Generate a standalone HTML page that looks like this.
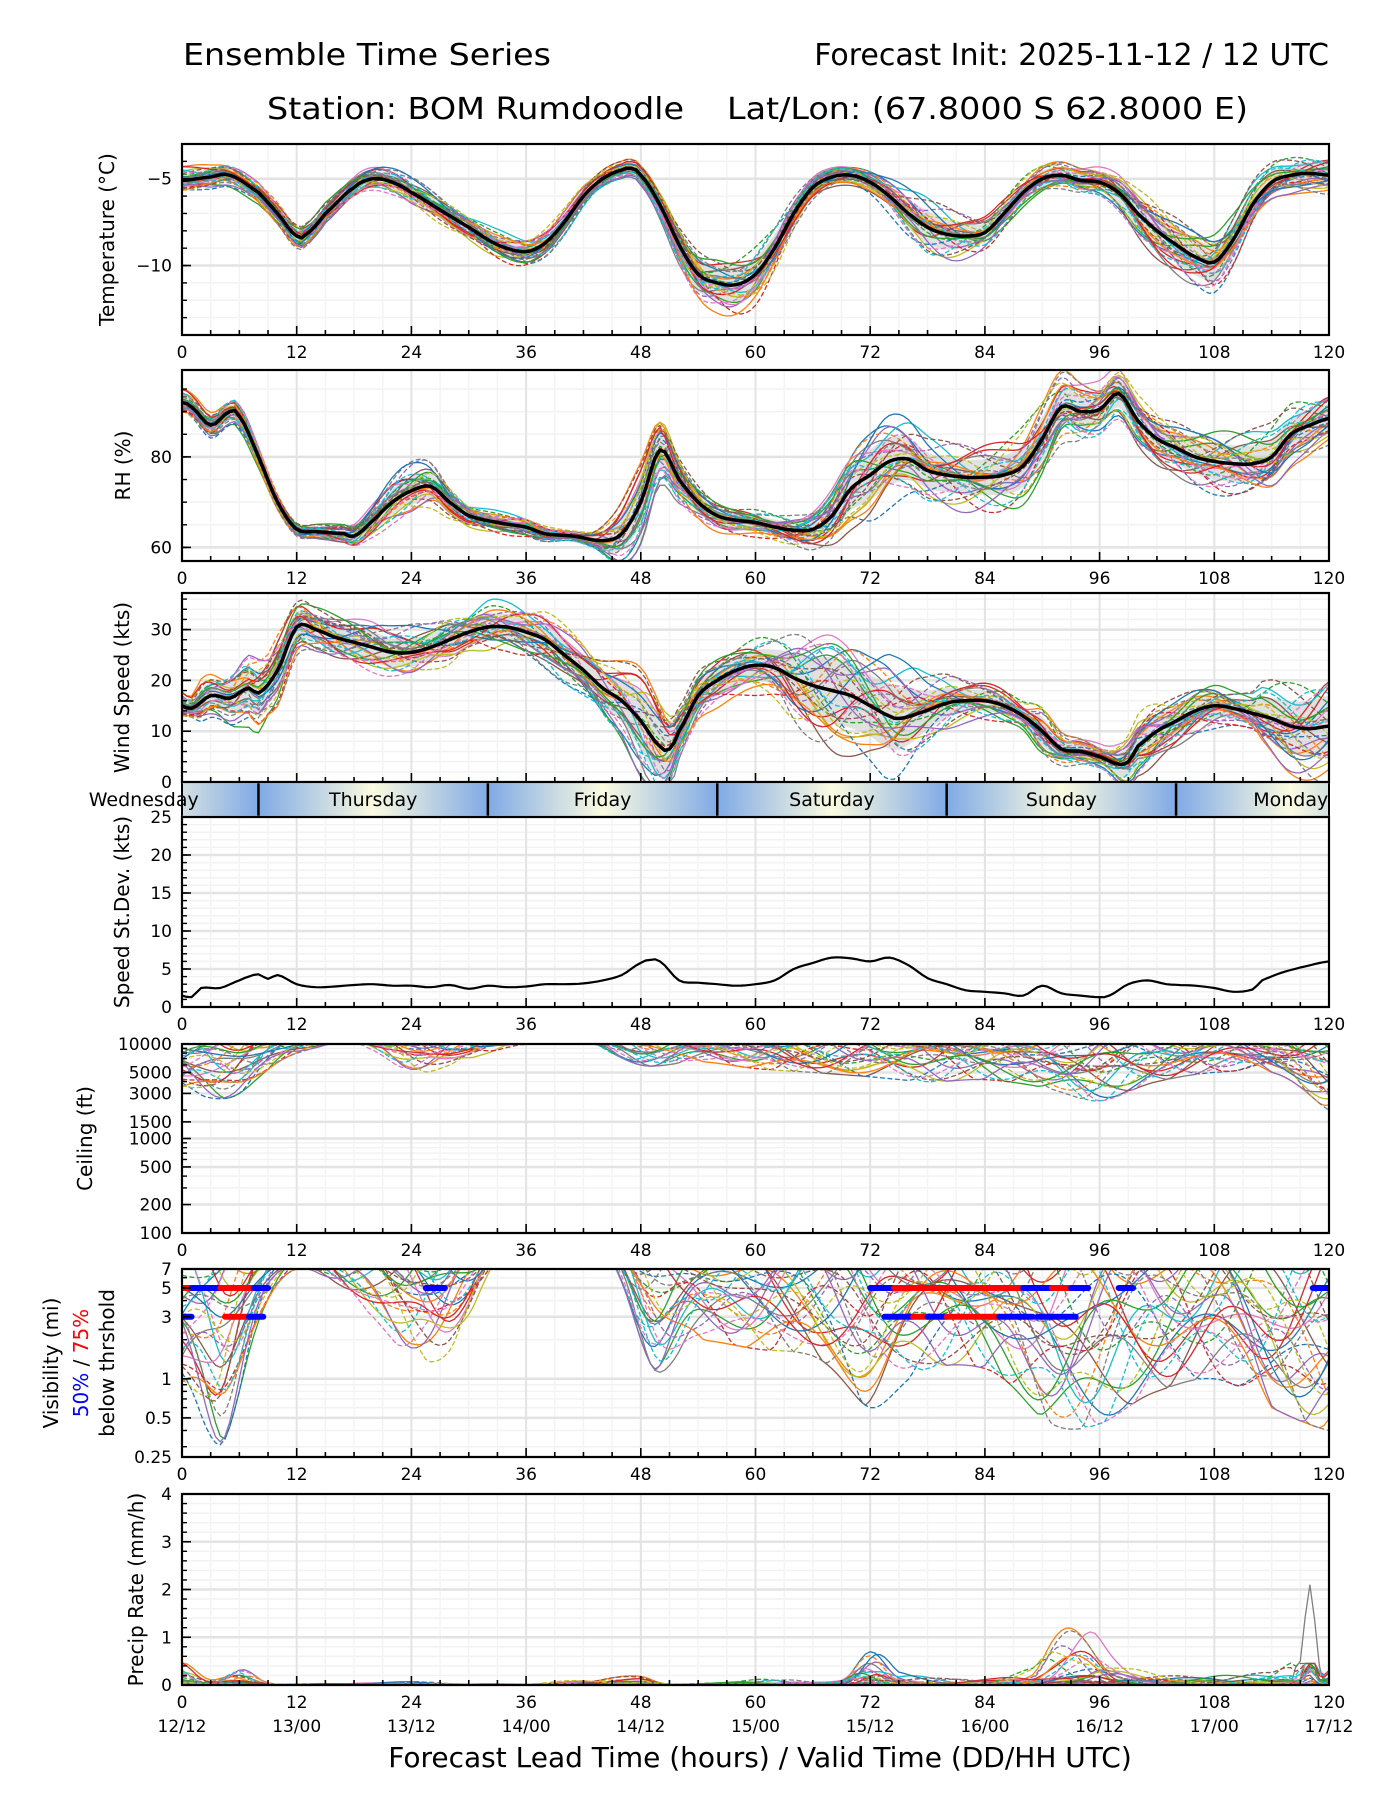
<!DOCTYPE html>
<html><head><meta charset="utf-8"><style>
html,body{margin:0;padding:0;background:#fff}
svg{display:block;font-family:"DejaVu Sans","Liberation Sans",sans-serif}
</style></head><body>
<svg id="chart" xmlns="http://www.w3.org/2000/svg" width="1400" height="1800" viewBox="0 0 1400 1800">
<text x="183" y="65" font-size="30" textLength="368" lengthAdjust="spacingAndGlyphs">Ensemble Time Series</text>
<text x="1329" y="65" font-size="30" text-anchor="end">Forecast Init: 2025-11-12 / 12 UTC</text>
<text x="267" y="119" font-size="30" textLength="417" lengthAdjust="spacingAndGlyphs">Station: BOM Rumdoodle</text>
<text x="727" y="119" font-size="30" textLength="521" lengthAdjust="spacingAndGlyphs">Lat/Lon: (67.8000 S 62.8000 E)</text>
<text x="760" y="1767" font-size="28" text-anchor="middle">Forecast Lead Time (hours) / Valid Time (DD/HH UTC)</text>
</svg>
<script>
// ---------- DATA ----------
const tempHours=[0,3,5,8,10,12,13,15,18,20,22,24,27,30,33,36,38,40,42,44,46,47,48,50,52,54,56,58,60,62,64,66,68,70,72,74,76,78,80,82,84,86,88,90,92,94,96,98,100,102,104,106,108,110,112,114,116,118,120];
const tempMean=[-5.1,-4.9,-4.8,-5.8,-7,-8.3,-8.2,-7,-5.5,-5.0,-5.2,-5.8,-6.8,-7.8,-8.8,-9.2,-8.7,-7.5,-6,-5,-4.5,-4.4,-4.8,-6.5,-8.8,-10.5,-11,-11.1,-10.5,-9,-7,-5.5,-4.9,-4.8,-5.2,-6,-7,-7.8,-8.2,-8.3,-8.1,-7,-5.8,-5,-4.8,-5.1,-5.2,-5.8,-7,-8,-8.8,-9.5,-9.8,-8.5,-6.5,-5.2,-4.8,-4.7,-4.8];
const spreadHours=[0,6,12,18,24,30,36,42,48,54,60,66,72,78,84,90,96,102,108,114,120];
const tempSpread=[0.6,0.5,0.5,0.5,0.6,0.6,0.6,0.5,0.4,1.2,1.2,0.5,0.5,1.2,0.7,0.6,0.6,1.2,1.3,0.8,0.8];
const rhHours=[0,1,3,5,6,8,10,12,14,17,18,20,22,24,26,28,30,33,36,38,41,44,46,48,50,52,54,56,58,60,62,64,66,68,70,72,74,76,78,80,82,84,86,88,90,92,94,96,98,100,102,104,106,108,110,112,114,116,118,120];
const rhMean=[92,91,87,90,89,80,70,64,63.5,63,62.5,66,70,72.5,73.5,70,67,65.5,64.5,63,62.5,61.5,63,70,81.5,75,70,67,66,65.5,64.5,63.8,64,67,73,76,79,79.5,77,76,75.5,75.5,76,78,84,91,90,90.5,94,88,84,82,80,79,78.5,78.5,80,85,87,88.5];
const rhSpread=[2,2,1,2,4,2,1.5,1,6,3,2,3,7,5,5,6,4,4,5,5,4];
const windHours=[0,1,3,5,7,8,10,12,14,16,18,20,22,24,26,28,30,32,34,36,38,40,42,44,46,48,50,51,52,54,56,58,60,62,64,66,68,70,72,74,75,77,80,82,84,86,88,90,92,94,96,98,99,100,102,104,106,108,110,112,114,116,118,120];
const windMean=[15,14.5,17,16.5,18.5,17.5,22,30.5,30,28.5,27.5,26.5,25.5,25.5,26.5,28,29.5,30.5,30.5,29.5,28,25,22,18.5,16,12,7,6.5,10,17,20,22,23,22.5,20.5,19,18,17,15,13,12.5,13.5,15.5,16,16,15,13,10,6.5,6,5,3.5,4,7,10,12,14,15,14.5,13.5,12.5,11,10.5,11];
const stdHours=[0,1,2,4,6,7,8,9,10,12,14,16,18,20,22,24,26,28,30,32,34,36,38,40,42,44,46,48,49,50,52,54,56,58,60,62,64,66,68,70,72,74,76,78,80,82,84,86,88,90,92,94,96,97,99,101,103,106,108,110,112,113,115,117,120];
const stdVals=[1.5,1.3,2.5,2.5,3.5,4,4.3,3.7,4.2,3.0,2.6,2.7,2.9,3.0,2.8,2.8,2.6,2.9,2.4,2.8,2.6,2.7,3.0,3.0,3.1,3.5,4.2,5.8,6.2,6.0,3.5,3.2,3.0,2.8,3.0,3.5,5,5.8,6.5,6.4,6.0,6.5,5.5,3.8,3.0,2.2,2.0,1.8,1.5,2.8,1.8,1.5,1.3,1.5,3,3.5,3.0,2.8,2.5,2.0,2.3,3.5,4.5,5.2,6.0];
const ceilLow=[3000,3000,8000,10000,5000,7000,10000,10000,6000,6500,5500,5000,4500,4000,4200,3500,2500,4000,5000,5000,2000];
const visLow=[0.7,0.8,7,4,1.5,3,14,14,2,2,1.7,1.5,0.6,1.2,1.2,0.5,0.45,0.8,1,0.6,0.4];
const precipHours=[0,3,6,9,12,24,36,48,51,60,63,69,72,75,84,89,91,93,95,97,99,102,114,116,117,118,119,120];
const precipPeak=[0.4,0.1,0.35,0.05,0.02,0.05,0.02,0.15,0.02,0.1,0.1,0.1,0.7,0.2,0.1,0.3,0.8,1.0,0.9,0.5,0.3,0.2,0.2,0.4,0.5,2.1,0.4,0.35];
const visBars=[[5,0,1,'red'],[5,1,4,'blue'],[5,4,7.5,'red'],[5,7.5,9,'blue'],[3,0,1,'blue'],[3,4.5,7,'red'],[3,7,8.5,'blue'],[5,25.5,27.5,'blue'],[5,72,74.5,'blue'],[5,74.5,88,'red'],[5,88,91,'blue'],[5,91,93,'red'],[5,93,94.8,'blue'],[5,98,99.5,'blue'],[5,118.3,120,'blue'],[3,73.5,76.5,'blue'],[3,76.5,78,'red'],[3,78,80,'blue'],[3,80,85.5,'red'],[3,85.5,89,'blue'],[3,89.5,93.5,'blue']];
const dayNames=['Wednesday','Thursday','Friday','Saturday','Sunday','Monday'];
const hourTicks=[0,12,24,36,48,60,72,84,96,108,120];
const validLabels=['12/12','13/00','13/12','14/00','14/12','15/00','15/12','16/00','16/12','17/00','17/12'];
const colors=['#1f77b4','#ff7f0e','#2ca02c','#d62728','#9467bd','#8c564b','#e377c2','#7f7f7f','#bcbd22','#17becf'];
const NM=30;
// ---------- HELPERS ----------
const NS='http://www.w3.org/2000/svg';
const svg=document.getElementById('chart');
const X0=182,X1=1329;
function sx(h){return X0+h*(X1-X0)/120;}
function mk(tag,attrs,parent){const e=document.createElementNS(NS,tag);for(const k in attrs)e.setAttribute(k,attrs[k]);(parent||svg).appendChild(e);return e;}
function interp(hs,vs,t){
  if(t<=hs[0])return vs[0]; if(t>=hs[hs.length-1])return vs[vs.length-1];
  let i=0;while(hs[i+1]<t)i++;
  const p0=vs[Math.max(0,i-1)],p1=vs[i],p2=vs[i+1],p3=vs[Math.min(vs.length-1,i+2)];
  const u=(t-hs[i])/(hs[i+1]-hs[i]);
  return 0.5*((2*p1)+(-p0+p2)*u+(2*p0-5*p1+4*p2-p3)*u*u+(-p0+3*p1-3*p2+p3)*u*u*u);
}
function off(m,t){return 0.65*Math.sin(t*0.11*(1+(m%7)*0.19)+m*1.7)+0.35*Math.sin(t*0.37*(1+(m%5)*0.13)+m*0.9)+0.25*Math.sin(m*2.3);}
const T=[];for(let t=0;t<=120.001;t+=0.5)T.push(t);
const panels={
 temp:{top:144,bot:335,min:-14,max:-3},
 rh:{top:370,bot:561,min:57,max:99.2},
 wind:{top:593,bot:782,min:0,max:37.2},
 std:{top:817,bot:1007,min:0,max:25},
 ceil:{top:1044,bot:1233,min:100,max:10000,log:true},
 vis:{top:1269,bot:1457,min:0.25,max:7,log:true},
 precip:{top:1494,bot:1685,min:0,max:4}
};
function sy(p,v){
  if(p.log)return p.top+(Math.log(p.max)-Math.log(v))/(Math.log(p.max)-Math.log(p.min))*(p.bot-p.top);
  return p.top+(p.max-v)/(p.max-p.min)*(p.bot-p.top);
}
function pathOf(p,vals){return vals.map((v,i)=>(i?'L':'M')+sx(T[i]).toFixed(1)+','+sy(p,v).toFixed(1)).join('');}
function frame(name,p,yMajor,yMinor,yLabels,showX){
  const g=mk('g',{});
  
  
  const cp=mk('clipPath',{id:'clip-'+name},g);
  mk('rect',{x:X0,y:p.top,width:X1-X0,height:p.bot-p.top},cp);
  for(const v of yMinor){const y=sy(p,v);const l=mk('line',{x1:X0,x2:X1,y1:y,y2:y,stroke:'#f2f2f2','stroke-width':1.5},g);
    
    }
  for(let h=3;h<120;h+=3){if(h%12==0)continue;const l=mk('line',{x1:sx(h),x2:sx(h),y1:p.top,y2:p.bot,stroke:'#f4f4f4','stroke-width':1.5},g);
    
    }
  for(const v of yMajor){const y=sy(p,v);const l=mk('line',{x1:X0,x2:X1,y1:y,y2:y,stroke:'#e3e3e3','stroke-width':2.5},g);
    
    }
  for(const h of hourTicks){const l=mk('line',{x1:sx(h),x2:sx(h),y1:p.top,y2:p.bot,stroke:'#e3e3e3','stroke-width':2},g);
    
    }
  const data=mk('g',{'clip-path':'url(#clip-'+name+')'},g);
  
  
  const axes=mk('g',{},g);
  
  
  setTimeout(()=>{svg.appendChild(g);g.appendChild(axes);},0);
  for(let h=0;h<=120;h+=3){const L=h%12==0?9:5;const l=mk('line',{x1:sx(h),x2:sx(h),y1:p.bot,y2:p.bot-L,stroke:'#000','stroke-width':1.6},axes);
    
    }
  for(const v of yMinor){const y=sy(p,v);const l=mk('line',{x1:X0,x2:X0+5,y1:y,y2:y,stroke:'#000','stroke-width':1.4},axes);
    
    }
  yMajor.forEach((v,i)=>{const y=sy(p,v);const l=mk('line',{x1:X0,x2:X0+9,y1:y,y2:y,stroke:'#000','stroke-width':1.6},axes);
    
    
    const t=mk('text',{x:172,y:y+6,'font-size':17,'text-anchor':'end'},axes);t.textContent=yLabels[i];
    
    });
  const r=mk('rect',{x:X0,y:p.top,width:X1-X0,height:p.bot-p.top,fill:'none',stroke:'#000','stroke-width':2.2},axes);
  
  
  if(showX){hourTicks.forEach(h=>{const t=mk('text',{x:sx(h),y:p.bot+23,'font-size':17,'text-anchor':'middle'},axes);t.textContent=String(h);
    
    });}
  return {g:data,axes:axes};
}
function ylabel(text,x,p,parent){const cy=(p.top+p.bot)/2;const t=mk('text',{x:x,y:cy,'font-size':20,'text-anchor':'middle','dominant-baseline':'central',transform:`rotate(-90 ${x} ${cy})`},parent);t.textContent=text;
  
  return t;}
function members(p,g,fn){
  for(let m=0;m<NM;m++){const vals=T.map(t=>fn(m,t));
    const l=mk('path',{d:pathOf(p,vals),fill:'none',stroke:colors[m%10],'stroke-width':1.3,'stroke-dasharray':m>=10&&m<20||m>=25?'5,2.5':'none'},g);
    
    }
}
function band(p,g,mean,spread,k){
  const up=T.map(t=>mean(t)+k*spread(t)),lo=T.map(t=>mean(t)-k*spread(t));
  const d=pathOf(p,up)+lo.map((v,i)=>'L'+sx(T[lo.length-1-i]).toFixed(1)+','+sy(p,lo[lo.length-1-i]).toFixed(1)).join('')+'Z';
  const b=mk('path',{d:d,fill:'#c8c8c8','fill-opacity':0.55,stroke:'none'},g);
  
  
}
function meanLine(p,g,fn,w){const l=mk('path',{d:pathOf(p,T.map(fn)),fill:'none',stroke:'#000','stroke-width':w,'stroke-linejoin':'round'},g);
  
  }
function range(a,b,s){const r=[];for(let v=a;v<=b+1e-9;v+=s)r.push(+v.toFixed(3));return r;}

// ---------- TEMPERATURE ----------
{const p=panels.temp;const f=frame('temperature',p,[-5,-10],range(-14,-3,1),['−5','−10'],true);
 const mean=t=>interp(tempHours,tempMean,t),sp=t=>interp(spreadHours,tempSpread,t);
 band(p,f.g,mean,sp,0.8);
 members(p,f.g,(m,t)=>mean(t)+sp(t)*1.2*off(m,t));
 meanLine(p,f.g,mean,3.5);
 ylabel('Temperature (°C)',107,p,f.axes);}
// ---------- RH ----------
{const p=panels.rh;const f=frame('rh',p,[60,80],range(60,95,5),['60','80'],true);
 const mean=t=>interp(rhHours,rhMean,t),sp=t=>interp(spreadHours,rhSpread,t);
 band(p,f.g,mean,sp,0.8);
 members(p,f.g,(m,t)=>mean(t)+sp(t)*1.3*off(m,t));
 meanLine(p,f.g,mean,3.5);
 ylabel('RH (%)',123,p,f.axes);}
// ---------- WIND ----------
{const p=panels.wind;const f=frame('wind-speed',p,[0,10,20,30],range(0,36,2),['0','10','20','30'],false);
 const mean=t=>interp(windHours,windMean,t),sp=t=>interp(stdHours,stdVals,t);
 band(p,f.g,mean,sp,1);
 members(p,f.g,(m,t)=>Math.max(0,mean(t)+sp(t)*1.6*off(m,t)));
 meanLine(p,f.g,mean,3.5);
 ylabel('Wind Speed (kts)',122,p,f.axes);}
// ---------- DAY BAR ----------
{const g=mk('g',{});
 
 
 const defs=mk('defs',{},g);
 const cp=mk('clipPath',{id:'clip-day'},defs);mk('rect',{x:X0,y:782,width:X1-X0,height:35},cp);
 const gr=mk('linearGradient',{id:'dayGrad',x1:0,x2:1,y1:0,y2:0},defs);
 mk('stop',{offset:0,'stop-color':'#80aae6'},gr);mk('stop',{offset:0.5,'stop-color':'#fbfbe0'},gr);mk('stop',{offset:1,'stop-color':'#80aae6'},gr);
 const cg=mk('g',{'clip-path':'url(#clip-day)'},g);
 dayNames.forEach((d,i)=>{const h0=-16+24*i;
   const r=mk('rect',{x:sx(h0),y:782,width:sx(24)-sx(0),height:35,fill:'url(#dayGrad)'},cg);
   
   
   if(i>0){const l=mk('line',{x1:sx(h0),x2:sx(h0),y1:782,y2:817,stroke:'#000','stroke-width':2.5},cg);
     
     }});
 dayNames.forEach((d,i)=>{const t=mk('text',{x:sx(-4+24*i),y:806,'font-size':19,'text-anchor':'middle'},g);t.textContent=d;
   
   });
 const b=mk('rect',{x:X0,y:782,width:X1-X0,height:35,fill:'none',stroke:'#000','stroke-width':2},g);
 
 }
// ---------- STD DEV ----------
{const p=panels.std;const f=frame('speed-stddev',p,[0,5,10,15,20,25],range(0,25,1),['0','5','10','15','20','25'],true);
 meanLine(p,f.g,t=>interp(stdHours,stdVals,t),2.2);
 ylabel('Speed St.Dev. (kts)',122,p,f.axes);}
// ---------- CEILING ----------
{const p=panels.ceil;const f=frame('ceiling',p,[10000,5000,3000,1500,1000,500,200,100],[9000,8000,7000,6000,4000,2000,900,800,700,600,400,300],['10000','5000','3000','1500','1000','500','200','100'],true);
 const low=t=>interp(spreadHours,ceilLow,t);
 members(p,f.g,(m,t)=>{const fr=0.5+0.5*off(m,t);const L=Math.log(Math.min(low(t),9900));return Math.min(10000,Math.exp(L+(Math.log(16000)-L)*Math.max(0,fr)));});
 ylabel('Ceiling (ft)',85,p,f.axes);}
// ---------- VISIBILITY ----------
{const p=panels.vis;const f=frame('visibility',p,[7,5,3,1,0.5,0.25],[6,4,2,0.9,0.8,0.7,0.6,0.4,0.3],['7','5','3','1','0.5','0.25'],true);
 const low=t=>Math.max(0.3,interp(spreadHours,visLow,t));
 members(p,f.g,(m,t)=>{const fr=0.5+0.5*off(m,t);const L=Math.log(low(t));return Math.exp(L+(Math.log(14)-L)*Math.max(0,fr));});
 visBars.forEach(b=>{const y=sy(p,b[0]);const l=mk('line',{x1:sx(b[1]),x2:sx(b[2]),y1:y,y2:y,stroke:b[3]=='red'?'#ff0000':'#0000ff','stroke-width':6,'stroke-linecap':'round'},f.g);
   
   });
 const cy=(p.top+p.bot)/2;
 ylabel('Visibility (mi)',51,p,f.axes);
 const t2=mk('text',{x:81,y:cy,'font-size':20,'text-anchor':'middle','dominant-baseline':'central',transform:`rotate(-90 81 ${cy})`},f.axes);
 
 
 t2.innerHTML='<tspan fill="#0000ff">50%</tspan> / <tspan fill="#ff0000">75%</tspan>';
 ylabel('below thrshold',107,p,f.axes);}
// ---------- PRECIP ----------
{const p=panels.precip;const f=frame('precip-rate',p,[0,1,2,3,4],range(0,4,0.2),['0','1','2','3','4'],true);
 const pk=t=>Math.max(0,interp(precipHours,precipPeak,t));
 members(p,f.g,(m,t)=>{let fr=0.5+0.5*off(m,t);fr=Math.max(0,fr);let v=pk(t)*Math.pow(fr,3);if(t>116&&t<119.5&&m!==7)v=Math.min(v,0.45);if(m===7&&t>116&&t<119.5)v=pk(t);return v;});
 ylabel('Precip Rate (mm/h)',136,p,f.axes);
 validLabels.forEach((s,i)=>{const t=mk('text',{x:sx(hourTicks[i]),y:1732,'font-size':17,'text-anchor':'middle'},f.axes);t.textContent=s;
   
   });}
</script>
</body></html>
